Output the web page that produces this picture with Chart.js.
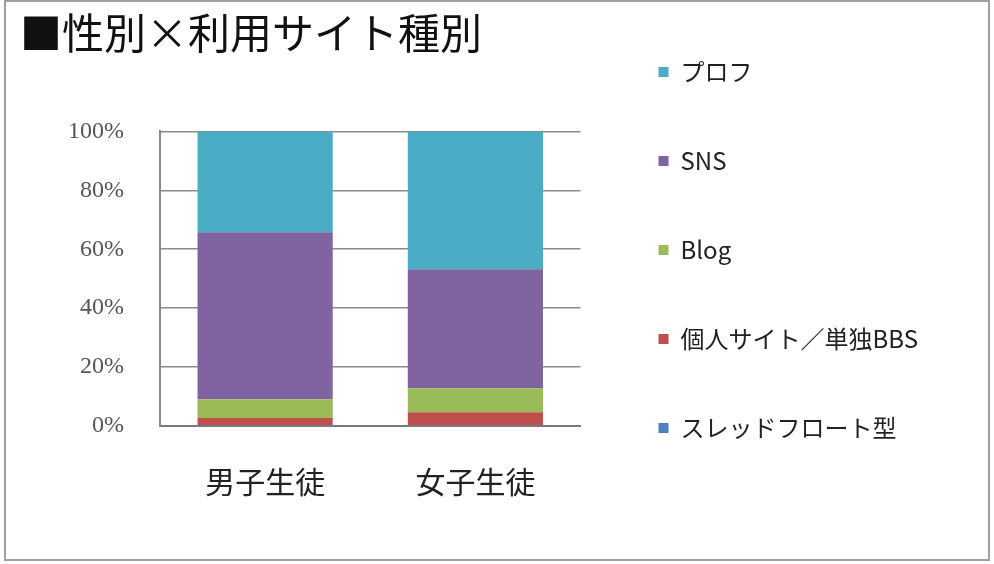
<!DOCTYPE html>
<html lang="ja">
<head>
<meta charset="utf-8">
<title>性別×利用サイト種別</title>
<script src="https://cdn.jsdelivr.net/npm/chart.js@4/dist/chart.umd.min.js"></script>
<style>
  body { margin: 0; background: #fff; }
  #wrap { position: relative; width: 994px; height: 564px; }
  #frame {
    position: absolute; left: 4px; top: 0; width: 986px; height: 561px;
    box-sizing: border-box; border: 2px solid #a0a0a0; pointer-events: none;
  }
</style>
</head>
<body>
<div id="wrap">
  <canvas id="myChart" width="994" height="564"></canvas>
  <div id="frame"></div>
</div>
<script>
'use strict';

// categories and series (percent of each group)
let groups = ['男子生徒', '女子生徒'];
let siteTypes = ['スレッドフロート型', '個人サイト／単独BBS', 'Blog', 'SNS', 'プロフ'];
let threadFloat = [0.3, 0.3];
let personalSite = [2.4, 4.4];
let blog = [6.4, 8.1];
let sns = [56.7, 40.4];
let profile = [34.2, 46.8];
let yTicks = [0, 20, 40, 60, 80, 100];

let seriesValues = [threadFloat, personalSite, blog, sns, profile];
let seriesColors = ['#4F81BD', '#C0504D', '#9BBB59', '#8064A2', '#4BACC6'];

let datasets = [];
for (let i = 0; i < siteTypes.length; i++) {
  datasets.push({
    label: siteTypes[i],
    data: seriesValues[i],
    backgroundColor: seriesColors[i],
    borderWidth: 0,
    categoryPercentage: 0.643,
    barPercentage: 1
  });
}

const ctx = document.getElementById('myChart');
const myChart = new Chart(ctx, {
  type: 'bar',
  data: { labels: groups, datasets: datasets },
  options: {
    responsive: false,
    animation: false,
    layout: { padding: { top: -5, left: 20, right: 66, bottom: 0 } },
    plugins: {
      title: {
        display: true,
        text: '■性別×利用サイト種別',
        align: 'start',
        color: '#111',
        font: { family: '"Noto Sans CJK JP"', size: 42, weight: 'normal' },
        padding: { top: 13, bottom: 0 }
      },
      legend: {
        position: 'right',
        align: 'start',
        reverse: true,
        maxWidth: 335,
        labels: {
          boxWidth: 10,
          boxHeight: 10,
          padding: 65,
          color: '#222',
          font: { family: '"Noto Sans CJK JP"', size: 24 }
        }
      },
      tooltip: { enabled: false }
    },
    scales: {
      x: {
        stacked: true,
        grid: { display: false },
        border: { color: '#7a7a7a', width: 2 },
        ticks: {
          color: '#222',
          padding: 30,
          font: { family: '"Noto Sans CJK JP"', size: 30 }
        },
        afterFit: function (scale) { scale.height = 138; }
      },
      xTop: {
        position: 'top',
        grid: { display: false },
        border: { display: false },
        ticks: { display: false },
        afterFit: function (scale) { scale.height = 73; }
      },
      y: {
        stacked: true,
        min: 0,
        max: 100,
        afterBuildTicks: function (scale) {
          scale.ticks = yTicks.map(function (v) { return { value: v }; });
        },
        grid: { color: '#8a8a8a', lineWidth: 1.5, drawTicks: false },
        border: { color: '#8a8a8a', width: 2 },
        ticks: {
          color: '#555',
          padding: 36,
          font: { family: '"Liberation Serif"', size: 24 },
          callback: function (value) { return value + '%'; }
        },
        afterFit: function (scale) { scale.width = 140; }
      },
      yRight: {
        position: 'right',
        grid: { display: false },
        border: { display: false },
        ticks: { display: false },
        afterFit: function (scale) { scale.width = 13; }
      }
    }
  }
});
</script>
</body>
</html>
